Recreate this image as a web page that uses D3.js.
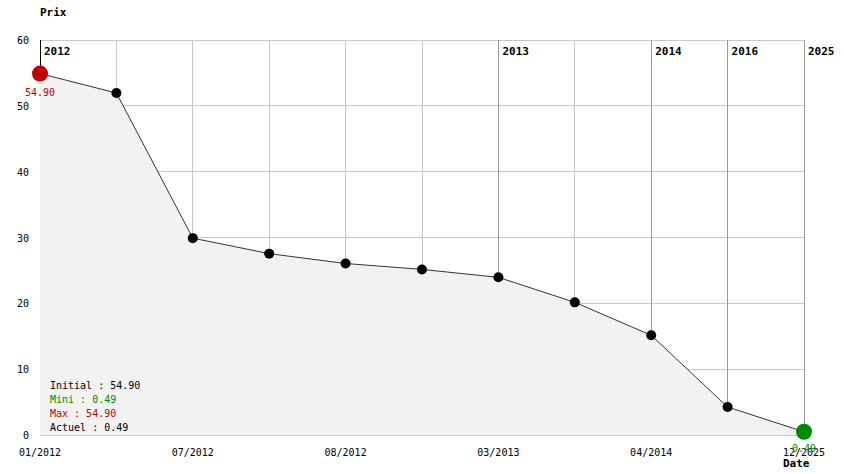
<!DOCTYPE html>
<html><head><meta charset="utf-8">
<script src="https://cdn.jsdelivr.net/npm/d3@7"></script>
<style>body{margin:0;background:#fff}svg{display:block}text{font-family:"DejaVu Sans Mono",monospace}</style>
</head><body>
<svg id="c" width="844" height="474"></svg>
<script>
const dates = ["01/2012","03/2012","07/2012","07/2012b","08/2012","10/2012","03/2013","06/2013","04/2014","02/2016","12/2025"];
const tickLabels = ["01/2012","","07/2012","","08/2012","","03/2013","","04/2014","","12/2025"];
const prices = [54.90, 51.95, 29.9, 27.55, 26.05, 25.15, 23.95, 20.15, 15.15, 4.25, 0.49];
const yearIdx = [0, 6, 8, 9, 10];
const yearLabels = ["2012","2013","2014","2016","2025"];
const yTicks = [0,10,20,30,40,50,60];
const legend = [["Initial : 54.90","#000"],["Mini : 0.49","#008a00"],["Max : 54.90","#c00000"],["Actuel : 0.49","#000"]];

const svg = d3.select("#c");
const L=40,R=804,T=40,B=435;
const x = d3.scalePoint().domain(d3.range(dates.length)).range([L,R]);
const y = d3.scaleLinear().domain([0,60]).range([B,T]);

// grid
svg.append("g").selectAll("line").data(yTicks).join("line")
  .attr("x1",L).attr("x2",R).attr("y1",d=>y(d)).attr("y2",d=>y(d))
  .attr("stroke","#c8c8c8").attr("shape-rendering","crispEdges");
svg.append("g").selectAll("line").data(d3.range(dates.length).filter(i=>!yearIdx.includes(i))).join("line")
  .attr("x1",d=>x(d)).attr("x2",d=>x(d)).attr("y1",T).attr("y2",B)
  .attr("stroke","#c8c8c8").attr("shape-rendering","crispEdges");
svg.append("g").selectAll("line").data(yearIdx).join("line")
  .attr("x1",d=>x(d)).attr("x2",d=>x(d)).attr("y1",T).attr("y2",B)
  .attr("stroke",(d,i)=>i===0?"#000":"#999").attr("shape-rendering","crispEdges");

// area
const idx = d3.range(prices.length);
svg.append("path").datum(idx)
  .attr("d", d3.area().x(i=>x(i)).y0(B).y1(i=>y(prices[i])))
  .attr("fill","#f2f2f2");
svg.append("path").datum(idx)
  .attr("d", d3.line().x(i=>x(i)).y(i=>y(prices[i])))
  .attr("fill","none").attr("stroke","#333").attr("stroke-width",1);

// year labels
svg.append("g").selectAll("text").data(yearIdx).join("text")
  .attr("x",d=>x(d)+4).attr("y",55).attr("font-size",11).attr("font-weight","bold")
  .text((d,i)=>yearLabels[i]);

// y axis labels
svg.append("g").selectAll("text").data(yTicks).join("text")
  .attr("x",29).attr("y",d=>y(d)+4).attr("text-anchor","end").attr("font-size",10)
  .text(d=>d);
// x labels
svg.append("g").selectAll("text").data(idx.filter(i=>tickLabels[i])).join("text")
  .attr("x",d=>x(d)).attr("y",456).attr("text-anchor","middle").attr("font-size",10)
  .text(d=>tickLabels[d]);

svg.append("text").attr("x",40).attr("y",16).attr("font-size",11).attr("font-weight","bold").text("Prix");
svg.append("text").attr("x",783).attr("y",467).attr("font-size",11).attr("font-weight","bold").text("Date");

// points
const maxI = prices.indexOf(d3.max(prices)), minI = prices.indexOf(d3.min(prices));
svg.append("g").selectAll("circle").data(idx).join("circle")
  .attr("cx",i=>x(i)).attr("cy",i=>y(prices[i]))
  .attr("r",i=>(i===maxI||i===minI)?8:5)
  .attr("fill",i=>i===maxI?"#c00000":i===minI?"#008a00":"#000");

svg.append("text").attr("x",x(maxI)).attr("y",y(prices[maxI])+22).attr("text-anchor","middle")
  .attr("font-size",10).attr("fill","#c00000").text(prices[maxI].toFixed(2));
svg.append("text").attr("x",x(minI)).attr("y",y(prices[minI])+20).attr("text-anchor","middle")
  .attr("font-size",10).attr("fill","#008a00").text(prices[minI].toFixed(2));

// legend
svg.append("g").selectAll("text").data(legend).join("text")
  .attr("x",50).attr("y",(d,i)=>389+i*14).attr("font-size",10).attr("fill",d=>d[1])
  .text(d=>d[0]);
</script>
</body></html>
